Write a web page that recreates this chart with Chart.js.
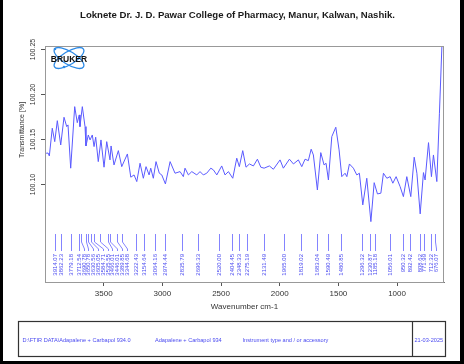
<!DOCTYPE html>
<html>
<head>
<meta charset="utf-8">
<title>FTIR - Adapalene + Carbapol 934</title>
<script src="https://cdn.jsdelivr.net/npm/chart.js@4.4.1/dist/chart.umd.min.js"></script>
<style>
    html, body { margin: 0; padding: 0; background: #fff; }
    #wrap { width: 464px; height: 364px; position: relative; }
</style>
</head>
<body>
<div id="wrap"><canvas id="ftirChart" width="464" height="364"></canvas></div>
<script>
// spectrum (cm-1 / %T)
const wavenumbers = [4000, 3986, 3974, 3963, 3938, 3917, 3895, 3866, 3838, 3815,
    3804, 3781, 3747, 3725, 3708, 3702, 3682, 3659, 3651, 3631,
    3616, 3597, 3582, 3568, 3546, 3523, 3497, 3474, 3446, 3437,
    3412, 3375, 3346, 3298, 3269, 3241, 3218, 3190, 3162, 3139,
    3113, 3099, 3077, 3054, 3026, 3005, 2974, 2934, 2892, 2849,
    2821, 2807, 2778, 2749, 2707, 2679, 2651, 2622, 2587, 2565,
    2536, 2494, 2466, 2437, 2400, 2366, 2344, 2315, 2287, 2258,
    2224, 2190, 2161, 2133, 2088, 2054, 1997, 1969, 1917, 1883,
    1841, 1812, 1784, 1756, 1732, 1713, 1679, 1650, 1622, 1605,
    1585, 1556, 1522, 1494, 1471, 1443, 1428, 1406, 1372, 1343,
    1321, 1292, 1258, 1223, 1195, 1167, 1138, 1116, 1087, 1059,
    1036, 1008, 974, 946, 917, 883, 854, 831, 803, 775,
    761, 732, 707, 690, 661, 639, 618, 604];
const transmittance = [100.1344, 100.1341, 100.1344, 100.1311, 100.1619, 100.1470, 100.1703, 100.1433, 100.1741, 100.1637,
    100.1656, 100.1175, 100.1859, 100.1681, 100.1767, 100.1637, 100.1859, 100.1637, 100.1422, 100.1544,
    100.1489, 100.1544, 100.1415, 100.1519, 100.1248, 100.1489, 100.1186, 100.1470, 100.1267, 100.1422,
    100.1211, 100.1370, 100.1192, 100.1333, 100.1075, 100.1100, 100.1026, 100.1230, 100.1063, 100.1192,
    100.1100, 100.1175, 100.1063, 100.1248, 100.1119, 100.1100, 100.1000, 100.1248, 100.1119, 100.1137,
    100.1081, 100.1175, 100.1100, 100.1137, 100.1100, 100.1137, 100.1100, 100.1119, 100.1175, 100.1156,
    100.1100, 100.1200, 100.1100, 100.1137, 100.1063, 100.1286, 100.1192, 100.1370, 100.1186, 100.1222,
    100.1200, 100.1275, 100.1186, 100.1175, 100.1200, 100.1163, 100.1267, 100.1175, 100.1275, 100.1222,
    100.1267, 100.1192, 100.1275, 100.1259, 100.1386, 100.1322, 100.0933, 100.1348, 100.1211, 100.1230,
    100.1044, 100.1526, 100.1630, 100.1378, 100.1081, 100.1119, 100.1081, 100.1222, 100.1175, 100.1100,
    100.1119, 100.0767, 100.1063, 100.0581, 100.1014, 100.0889, 100.0897, 100.1119, 100.1063, 100.1081,
    100.1008, 100.1081, 100.0970, 100.0859, 100.1081, 100.0859, 100.1297, 100.1119, 100.0667, 100.1126,
    100.1044, 100.1459, 100.1081, 100.1322, 100.1026, 100.1786, 100.2526, 100.2700];

// picked peaks
const peakWavenumbers = [3914.07, 3862.23, 3779.18, 3712.54, 3690.78, 3650.78, 3630.56, 3605.05, 3584.71, 3535.55,
    3466.01, 3446.01, 3389.85, 3344.68, 3222.43, 3154.64, 3064.16, 2974.44, 2835.79, 2696.33,
    2520.00, 2404.45, 2348.33, 2275.19, 2131.49, 1965.00, 1819.02, 1683.04, 1590.49, 1480.85,
    1296.32, 1230.87, 1185.18, 1056.01, 950.32, 892.42, 808.62, 771.99, 712.32, 676.07];

const xTickValues = [3500, 3000, 2500, 2000, 1500, 1000];
const yTickValues = [100.10, 100.15, 100.20, 100.25];

const footerTexts = ['D:\\FTIR DATA\\Adapalene + Carbapol 934.0', 'Adapalene + Carbapol 934',
    'Instrument type and / or accessory', '21-03-2025'];

const FONT = 'Arial, "Liberation Sans", sans-serif';
const BLUE = '#4a4af0';

Chart.defaults.font.family = FONT;

const spectrum = wavenumbers.map((w, i) => ({ x: w, y: transmittance[i] }));

// peak markers, labels pushed apart when they crowd
const peakPlugin = {
    id: 'peaks',
    afterDatasetsDraw(chart) {
        const { ctx, chartArea, scales } = chart;
        const xs = peakWavenumbers.map(w => scales.x.getPixelForValue(w));
        const order = xs.map((x, i) => i).sort((a, b) => xs[a] - xs[b]);
        const lx = [];
        let prev = -Infinity;
        order.forEach(i => {
            const v = Math.max(xs[i], prev + 4.8);
            lx[i] = v;
            prev = v;
        });
        const b = chartArea.bottom;
        ctx.save();
        ctx.strokeStyle = '#8484ff';
        ctx.lineWidth = 1;
        ctx.fillStyle = BLUE;
        ctx.font = '6px ' + FONT;
        peakWavenumbers.forEach((w, i) => {
            const x0 = Math.round(xs[i]) + 0.5;
            const x1 = Math.round(lx[i]) + 0.5;
            ctx.beginPath();
            ctx.moveTo(x0, b - 48);
            if (Math.abs(x1 - x0) < 1) {
                ctx.lineTo(x0, b - 31);
            } else {
                ctx.lineTo(x0, b - 40);
                ctx.lineTo(x1, b - 33);
                ctx.lineTo(x1, b - 31);
            }
            ctx.stroke();
            ctx.save();
            ctx.translate(x1, b - 28);
            ctx.rotate(-Math.PI / 2);
            ctx.textAlign = 'right';
            ctx.textBaseline = 'middle';
            ctx.fillText(w.toFixed(2), 0, 0);
            ctx.restore();
        });
        ctx.restore();
    }
};

// frame, titles, y ticks, footer and logo
const pagePlugin = {
    id: 'page',
    afterDraw(chart) {
        const { ctx, chartArea, scales } = chart;
        const { left, right, top, bottom } = chartArea;
        ctx.save();

        // plot box
        ctx.strokeStyle = '#999';
        ctx.lineWidth = 1;
        ctx.strokeRect(left + 0.5, top + 0.5, right - left - 1, bottom - top);

        // y ticks, rotated labels
        ctx.strokeStyle = '#555';
        ctx.fillStyle = '#333';
        ctx.font = '7px ' + FONT;
        yTickValues.forEach(v => {
            const y = Math.round(scales.y.getPixelForValue(v)) + 0.5;
            ctx.beginPath();
            ctx.moveTo(left, y);
            ctx.lineTo(left - 4, y);
            ctx.stroke();
            ctx.save();
            ctx.translate(left - 12, y);
            ctx.rotate(-Math.PI / 2);
            ctx.textAlign = 'center';
            ctx.textBaseline = 'middle';
            ctx.fillText(v.toFixed(2), 0, 0);
            ctx.restore();
        });

        // axis titles
        ctx.save();
        ctx.translate(22, 130);
        ctx.rotate(-Math.PI / 2);
        ctx.textAlign = 'center';
        ctx.textBaseline = 'middle';
        ctx.fillText('Transmittance [%]', 0, 0);
        ctx.restore();

        ctx.font = '8px ' + FONT;
        ctx.textAlign = 'center';
        ctx.textBaseline = 'middle';
        ctx.fillText('Wavenumber cm-1', (left + right) / 2, 307);

        // main title
        ctx.fillStyle = '#1a1a1a';
        ctx.font = 'bold 9.6px ' + FONT;
        ctx.fillText('Loknete Dr. J. D. Pawar College of Pharmacy, Manur, Kalwan, Nashik.', 237.5, 15.5);

        // footer box
        ctx.strokeStyle = '#333';
        ctx.lineWidth = 1.2;
        ctx.strokeRect(18.5, 321.5, 427, 35);
        ctx.beginPath();
        ctx.moveTo(412.5, 321.5);
        ctx.lineTo(412.5, 356.5);
        ctx.stroke();
        ctx.fillStyle = BLUE;
        ctx.font = '5.6px ' + FONT;
        ctx.textAlign = 'left';
        const footX = [22.5, 155, 242.5, 414.5];
        footerTexts.forEach((t, i) => ctx.fillText(t, footX[i], 340.5));

        // page border
        ctx.fillStyle = '#000';
        ctx.fillRect(0, 0, 3, 364);
        ctx.fillRect(460, 0, 4, 364);
        ctx.fillRect(0, 361, 464, 3);

        // Bruker logo
        const cx = left + 24, cy = top + 12;
        ctx.strokeStyle = '#2d8ae6';
        ctx.lineWidth = 1.3;
        [0.55, -0.55].forEach(r => {
            ctx.beginPath();
            ctx.ellipse(cx, cy, 17, 6.5, r, 0, Math.PI * 2);
            ctx.stroke();
        });
        ctx.fillStyle = '#2d8ae6';
        [[cx - 14, cy - 9], [cx - 5, cy + 9]].forEach(p => {
            ctx.beginPath();
            ctx.arc(p[0], p[1], 1.3, 0, Math.PI * 2);
            ctx.fill();
        });
        ctx.fillStyle = '#111';
        ctx.font = 'bold 8.5px ' + FONT;
        ctx.textAlign = 'center';
        ctx.textBaseline = 'middle';
        ctx.fillText('BRUKER', cx, cy + 2);

        ctx.restore();
    }
};

new Chart(document.getElementById('ftirChart').getContext('2d'), {
    type: 'line',
    data: {
        datasets: [{
            data: spectrum,
            borderColor: '#5a5aff',
            borderWidth: 1,
            pointRadius: 0,
            tension: 0,
            fill: false
        }]
    },
    options: {
        responsive: false,
        animation: false,
        parsing: false,
        layout: { padding: { top: 46, right: 20, left: 0, bottom: 0 } },
        plugins: {
            legend: { display: false },
            tooltip: { enabled: false }
        },
        scales: {
            x: {
                type: 'linear',
                reverse: true,
                min: 600,
                max: 4000,
                afterBuildTicks: s => { s.ticks = xTickValues.map(v => ({ value: v })); },
                afterFit: s => { s.height = 82; },
                ticks: {
                    color: '#333',
                    font: { size: 8 },
                    padding: 3,
                    maxRotation: 0,
                    autoSkip: false,
                    callback: v => v
                },
                grid: { drawOnChartArea: false, drawTicks: true, tickLength: 4, color: '#555' },
                border: { display: true, color: '#777' }
            },
            y: {
                min: 99.991,
                max: 100.2533,
                afterFit: s => { s.width = 45; },
                ticks: { display: false },
                grid: { display: false },
                border: { display: false }
            }
        }
    },
    plugins: [peakPlugin, pagePlugin]
});
</script>
</body>
</html>
